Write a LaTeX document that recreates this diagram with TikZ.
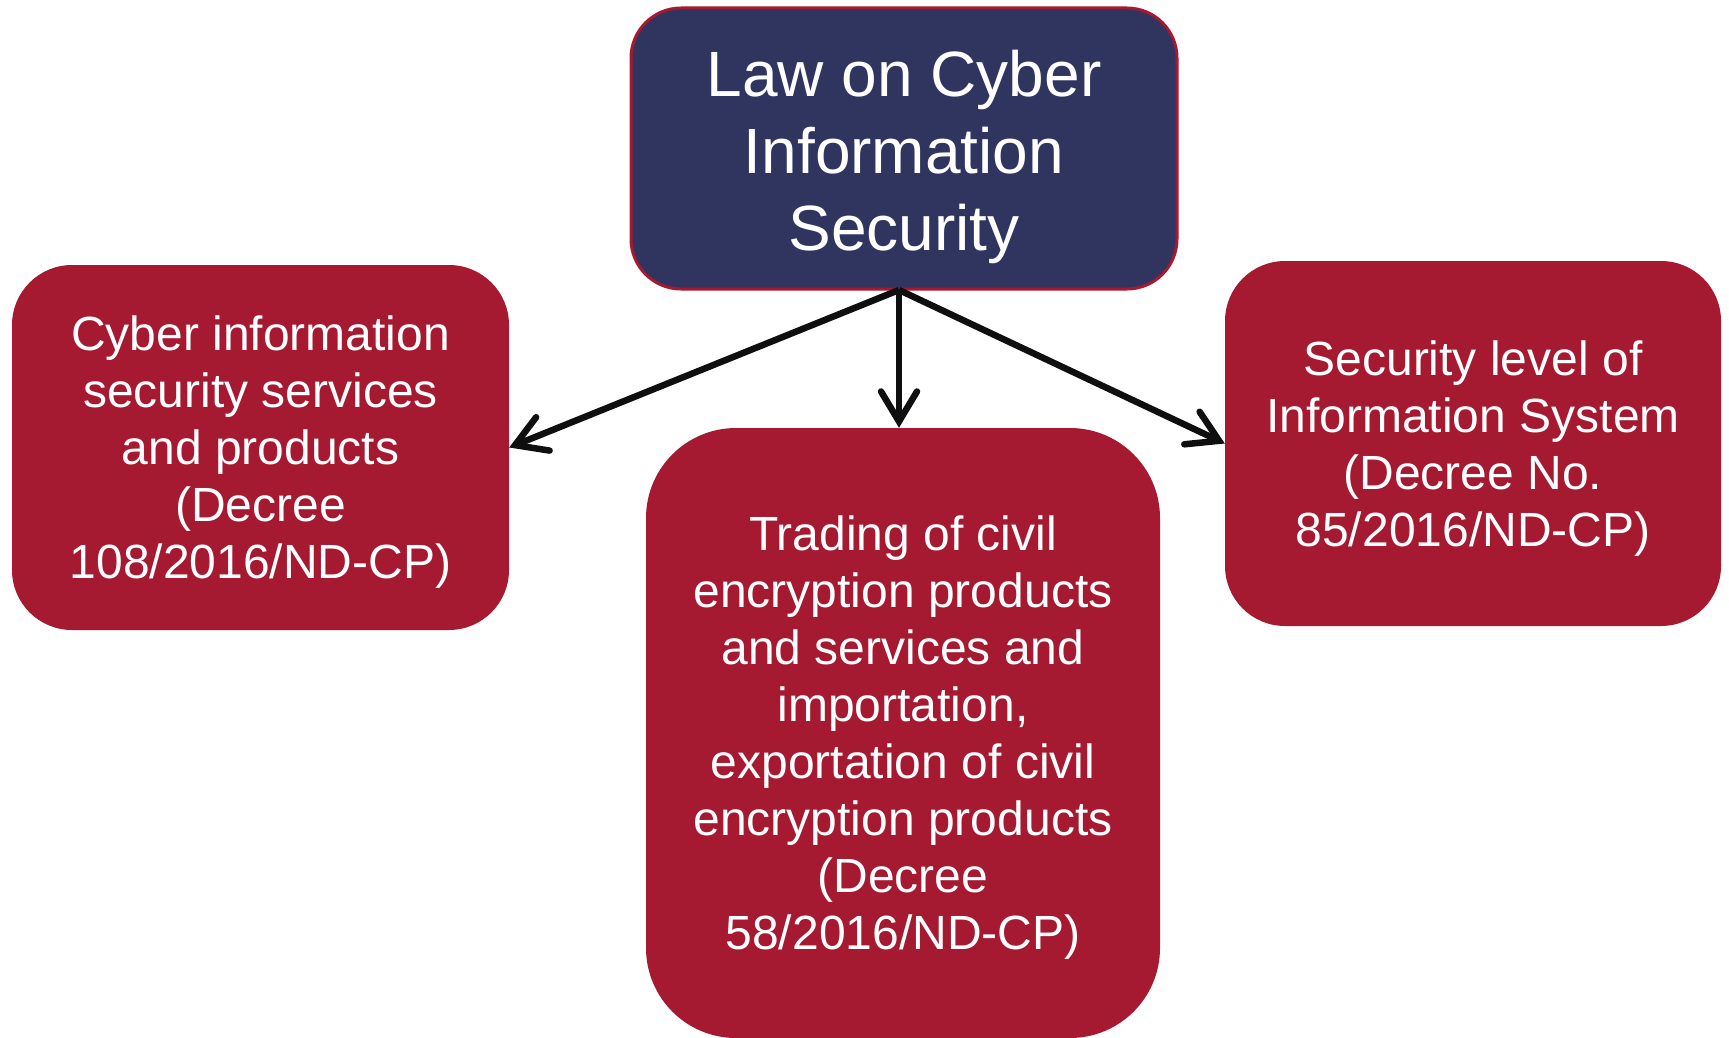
\documentclass[tikz,border=0pt]{standalone}
\usepackage{fontspec}
\setmainfont{Liberation Sans}
\usetikzlibrary{arrows.meta}
\definecolor{navy}{HTML}{2F355F}
\definecolor{crim}{HTML}{A51931}
\begin{document}
\begin{tikzpicture}[x=1pt,y=-1pt,
 box/.style={rectangle, fill=crim, inner sep=0pt},
 boxtext/.style={text=white, align=center, inner sep=0pt, font=\fontsize{48}{57}\selectfont, yshift=-5pt},
 conn/.style={line width=6.5pt, draw={rgb,255:red,15;green,15;blue,15}, -{Straight Barb[length=30pt,width=36pt,line cap=round]}}]
\useasboundingbox (0,0) rectangle (1729,1038);
\node[box, fill=navy, draw=crim, line width=3pt, rounded corners=50pt, minimum width=546pt, minimum height=281pt,
  label={[boxtext, font=\fontsize{64}{77}\selectfont, yshift=-3pt]center:Law on Cyber\\Information\\Security}] (top) at (904,148.5) {};
\node[box, rounded corners=60pt, minimum width=497pt, minimum height=365pt,
  label={[boxtext]center:Cyber information\\security services\\and products\\(Decree\\108/2016/ND-CP)}] (left) at (260.5,447.5) {};
\node[box, rounded corners=90pt, minimum width=514pt, minimum height=610pt,
  label={[boxtext]center:Trading of civil\\encryption products\\and services and\\importation,\\exportation of civil\\encryption products\\(Decree\\58/2016/ND-CP)}] (mid) at (903,733) {};
\node[box, rounded corners=60pt, minimum width=496pt, minimum height=365pt,
  label={[boxtext]center:Security level of\\Information System\\(Decree No.\\85/2016/ND-CP)}] (right) at (1473,443.5) {};
\coordinate (src) at (899,290);
\draw[conn] (src) -- (left.east);
\draw[conn] (src) -- (mid.north -| src);
\draw[conn] (src) -- (right.west);
\end{tikzpicture}
\end{document}
